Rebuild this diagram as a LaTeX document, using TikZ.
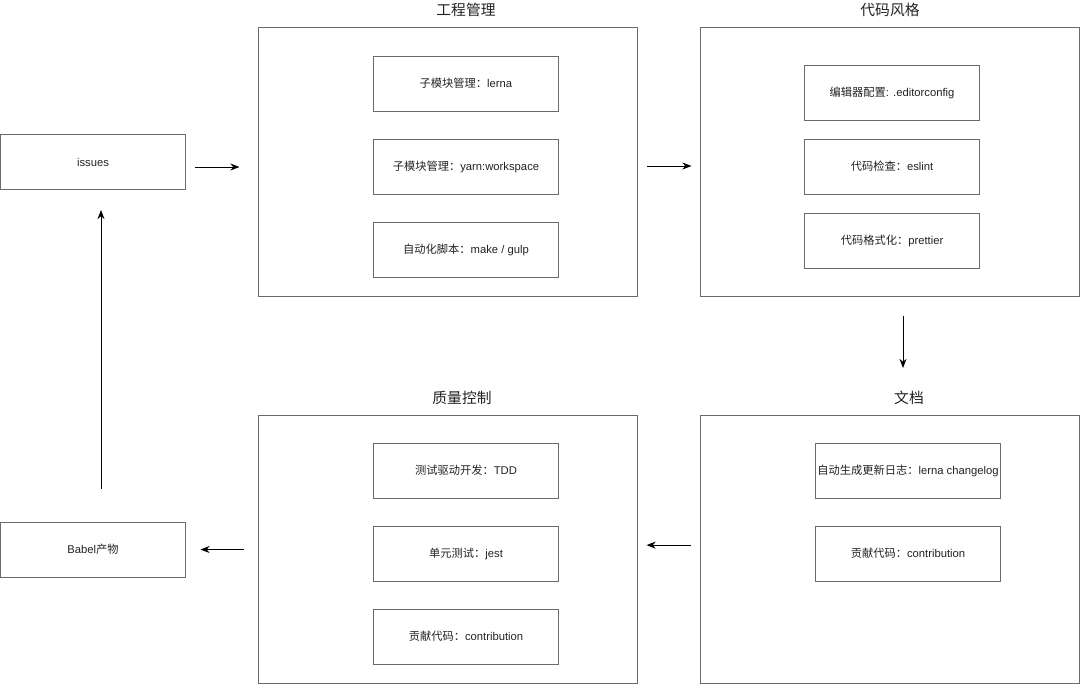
\documentclass[tikz,border=0pt]{standalone}
\usepackage{fontspec}
\setmainfont{Liberation Sans}
\newfontfamily\cjk{Noto Sans CJK SC}
\usetikzlibrary{arrows.meta,positioning}
\definecolor{framegray}{HTML}{6A6A6A}
\definecolor{textgray}{HTML}{222222}
\newcommand{\zh}[1]{{\cjk #1}}
\newcommand{\boxfont}{\fontsize{8pt}{10pt}\selectfont}
\newcommand{\titlefont}{\fontsize{10.5pt}{12pt}\selectfont}

\begin{document}
\begin{tikzpicture}[
    x=0.025cm,y=-0.025cm,
    >={Stealth[length=6.5pt,width=5pt]},
    itembox/.style={draw=framegray,line width=0.7pt,minimum width=4.6cm,
                 minimum height=1.375cm,font=\boxfont,text=textgray},
    groupframe/.style={draw=framegray,line width=0.7pt,minimum width=9.45cm,
                 minimum height=6.7cm},
    grouptitle/.style={font=\titlefont,text=textgray},
    arrow/.style={->,line width=0.6pt}
  ]
  \useasboundingbox (0,0) rectangle (1080,687);
  % left column
  \node[itembox] (issues) at (93,162) {issues};
  \node[itembox] (babel) at (93,549.5) {Babel\zh{产物}};
  % project management
  \node[groupframe] (project) at (448,162) {};
  \node[grouptitle] (projecttitle) at (466,10) {\zh{工程管理}};
  \node[itembox] (lerna) at (466,83.5) {\zh{子模块管理：}lerna};
  \node[itembox,below=0.675cm of lerna] (workspace)
    {\zh{子模块管理：}yarn:workspace};
  \node[itembox,below=0.675cm of workspace] (gulp)
    {\zh{自动化脚本：}make / gulp};
  % code style
  \node[groupframe] (codestyle) at (890,162) {};
  \node[grouptitle] (codestyletitle) at (890,10) {\zh{代码风格}};
  \node[itembox,minimum width=4.35cm] (editorconfig) at (892,92.5)
    {\zh{编辑器配置}: .editorconfig};
  \node[itembox,minimum width=4.35cm,below=0.45cm of editorconfig] (eslint)
    {\zh{代码检查：}eslint};
  \node[itembox,minimum width=4.35cm,below=0.45cm of eslint] (prettier)
    {\zh{代码格式化：}prettier};
  % documentation
  \node[groupframe] (docs) at (890,549.5) {};
  \node[grouptitle] (docstitle) at (909,398) {\zh{文档}};
  \node[itembox,inner xsep=1pt] (changelog) at (908,470.5)
    {\zh{自动生成更新日志：}lerna changelog};
  \node[itembox,below=0.675cm of changelog] (docscontrib)
    {\zh{贡献代码：}contribution};
  % quality control
  \node[groupframe] (quality) at (448,549.5) {};
  \node[grouptitle] (qualitytitle) at (462,398) {\zh{质量控制}};
  \node[itembox] (tdd) at (466,470.5) {\zh{测试驱动开发：}TDD};
  \node[itembox,below=0.675cm of tdd] (jest) {\zh{单元测试：}jest};
  \node[itembox,below=0.675cm of jest] (qualitycontrib)
    {\zh{贡献代码：}contribution};
  % flow
  \draw[arrow,shorten <=0.225cm,shorten >=0.475cm]
    ([yshift=-0.125cm]issues.east) -- ([yshift=-0.125cm]issues.east -| project.west);
  \draw[arrow,shorten <=0.225cm,shorten >=0.225cm]
    ([yshift=-0.1cm]project.east) -- ([yshift=-0.1cm]codestyle.west);
  \draw[arrow,shorten <=0.475cm,shorten >=1.175cm]
    ([xshift=0.325cm]codestyle.south) -- ([xshift=0.325cm]docs.north);
  \draw[arrow,shorten <=0.225cm,shorten >=0.225cm]
    ([yshift=0.11cm]docs.west) -- ([yshift=0.11cm]quality.east);
  \draw[arrow,shorten <=0.35cm,shorten >=0.375cm]
    (quality.west) -- (quality.west -| babel.east);
  \draw[arrow,shorten <=0.825cm,shorten >=0.5cm]
    ([xshift=0.2cm]babel.north) -- ([xshift=0.2cm]issues.south);
\end{tikzpicture}
\end{document}
